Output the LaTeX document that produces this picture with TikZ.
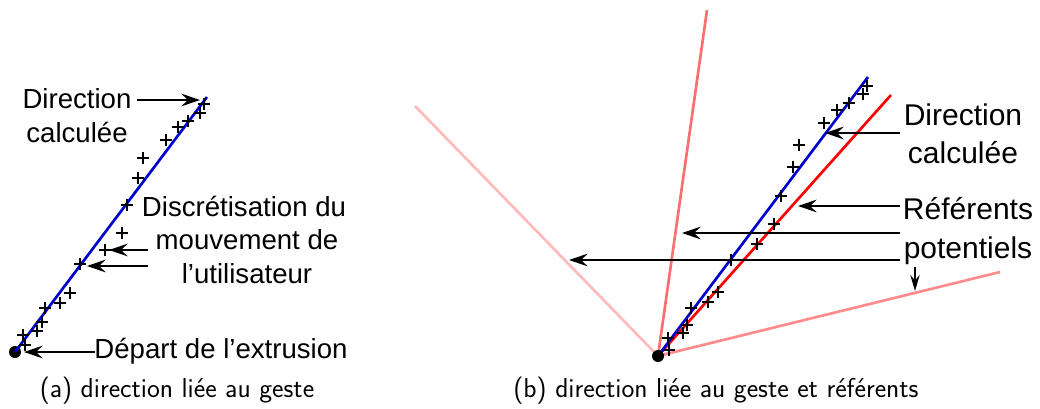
\documentclass[tikz,border=0pt]{standalone}
\usepackage{fontspec}
\newfontfamily\labfont{Liberation Sans}
\usetikzlibrary{arrows.meta}
\definecolor{gblue}{HTML}{0000CC}
\definecolor{refred}{HTML}{FF0000}
\definecolor{pinkA}{HTML}{FFBBBB}
\definecolor{pinkB}{HTML}{FF6E6E}
\definecolor{pinkC}{HTML}{FF8C8C}
\begin{document}
\begin{tikzpicture}[x=0.75pt,y=-0.75pt,
  lbl/.style={anchor=base,inner sep=0pt,font=\labfont\fontsize{20.7}{24}\selectfont},
  lblb/.style={anchor=base,inner sep=0pt,font=\labfont\fontsize{22.5}{27}\selectfont},
  captxt/.style={anchor=base,inner sep=0pt,font=\sffamily\fontsize{20.5}{24}\selectfont},
  arr/.style={line width=1.9pt,-{Stealth[length=14pt,width=9.5pt,inset=5pt]}},
  gest/.style={line width=2pt,draw=gblue},
  refl/.style={line width=2pt},
  mk/.style={line width=1pt},
  dotn/.style={circle,fill=black,inner sep=0pt,minimum size=9pt}
]
\useasboundingbox (0,0) rectangle (1040,408);

% ---------------- (a) ----------------
\node[dotn] (oa) at (15,352) {};
\coordinate (ba) at (207,97);
\draw[gest] (oa.center) -- (ba);
\foreach \x/\y in {204/104,200/113,188/121,178/127,166/140,143/158,138/178,127/205,122/233,105/250,80/264,70/293,60/303,45/308,42/322,37/331,23/335,25/345}
  \draw[mk] (\x-6,\y) -- (\x+6,\y) (\x,\y-6) -- (\x,\y+6);

\node[lbl] (a1) at (77,108) {Direction};
\node[lbl] (a2) at (77,142) {calculée};
\node[lbl] (a3) at (244,216) {Discrétisation du};
\node[lbl] (a4) at (247,249) {mouvement de};
\node[lbl] (a5) at (247,283) {l’utilisateur};
\node[lbl] (a6) at (221,358) {Départ de l’extrusion};

\coordinate (s1) at (137,100); \coordinate (t1) at (200,100);
\coordinate (s2) at (148,250); \coordinate (t2) at (109,250);
\coordinate (s3) at (148,266); \coordinate (t3) at (87,266);
\coordinate (s4) at (95,352);  \coordinate (t4) at (24,352);
\draw[arr] (s1) -- (t1);
\draw[arr] (s2) -- (t2);
\draw[arr] (s3) -- (t3);
\draw[arr] (s4) -- (t4);

\node[captxt] (capa) at (177,397) {(a) direction liée au geste};

% ---------------- (b) ----------------
\coordinate (ob) at (658,356);
\coordinate (p1) at (415,106);
\coordinate (p2) at (707,10);
\coordinate (p3) at (1000,272);
\coordinate (rb) at (891,95);
\coordinate (bb) at (868,77);
\draw[refl,draw=pinkA] (ob) -- (p1);
\draw[refl,draw=pinkB] (ob) -- (p2);
\draw[refl,draw=pinkC] (ob) -- (p3);
\draw[refl,draw=refred] (ob) -- (rb);
\draw[gest] (ob) -- (bb);
\foreach \x/\y in {867/86,863/94,849/103,837/110,824/123,799/145,793/167,781/196,774/224,757/244,731/260,718/292,708/302,691/308,687/325,683/333,668/338,669/350}
  \draw[mk] (\x-6,\y) -- (\x+6,\y) (\x,\y-6) -- (\x,\y+6);

\node[lblb] (b1) at (963,125) {Direction};
\node[lblb] (b2) at (963,163) {calculée};
\node[lblb] (b3) at (968,219) {Référents};
\node[lblb] (b4) at (968,258) {potentiels};

\coordinate (u1) at (900,133); \coordinate (v1) at (825,133);
\coordinate (u2) at (900,206); \coordinate (v2) at (798,206);
\coordinate (u3) at (900,233); \coordinate (v3) at (682,233);
\coordinate (u4) at (900,260); \coordinate (v4) at (569,260);
\coordinate (u5) at (915,267); \coordinate (v5) at (915,291);
\draw[arr] (u1) -- (v1);
\draw[arr] (u2) -- (v2);
\draw[arr] (u3) -- (v3);
\draw[arr] (u4) -- (v4);
\draw[line width=1.6pt,-{Stealth[length=12pt,width=7pt,inset=4pt]}] (u5) -- (v5);

\node[dotn] (obn) at (ob) {};

\node[captxt] (capb) at (716,397) {(b) direction liée au geste et référents};
\end{tikzpicture}
\end{document}
